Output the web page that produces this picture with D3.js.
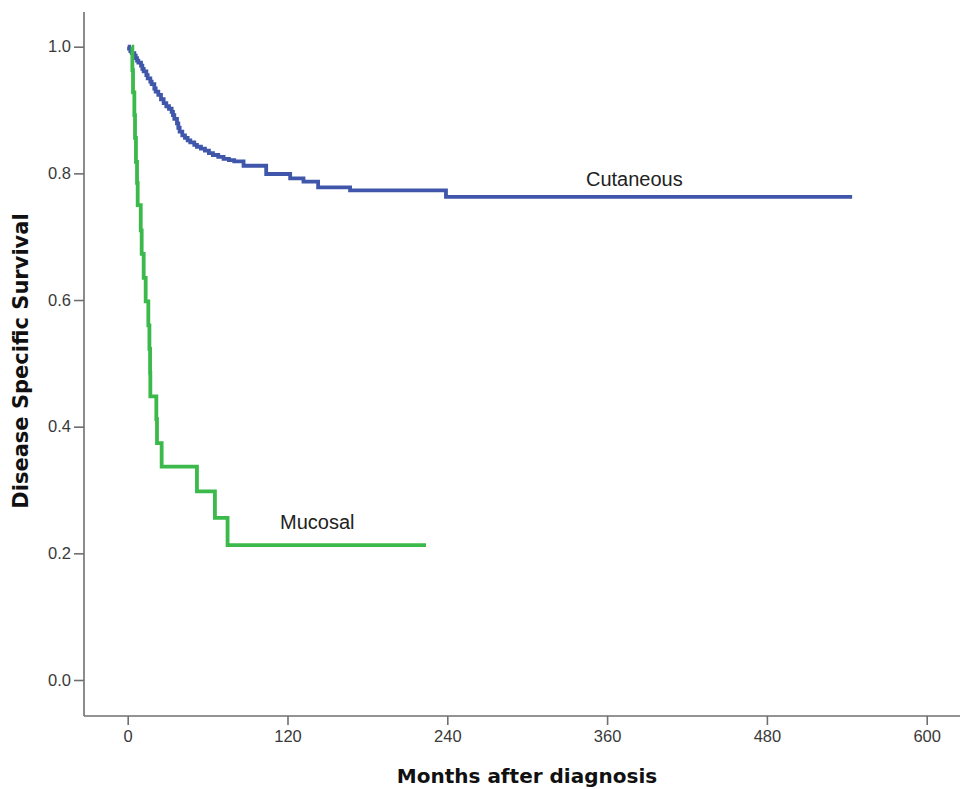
<!DOCTYPE html>
<html>
<head>
<meta charset="utf-8">
<script src="https://cdn.jsdelivr.net/npm/d3@7"></script>
<style>
  body { margin: 0; background: #fff; }
  svg { display: block; }
</style>
</head>
<body>
<svg id="chart" width="960" height="789"></svg>
<script>
// data (months, survival)
var cutMonths = [0,1,2,3,5,6,7,8,10,11,12,14,15,17,18,20,21,23,25,27,29,31,33,34,35,37,38,39,41,43,45,47,50,52,55,58,61,64,68,72,76,80,87,104,122,132,143,167,239,544];
var cutSurv   = [1.0,0.997,0.993,0.990,0.986,0.982,0.978,0.975,0.970,0.965,0.961,0.955,0.950,0.945,0.941,0.934,0.929,0.924,0.917,0.911,0.906,0.902,0.897,0.892,0.886,0.879,0.872,0.866,0.860,0.856,0.852,0.849,0.845,0.842,0.839,0.836,0.832,0.829,0.826,0.823,0.821,0.819,0.812,0.799,0.792,0.787,0.778,0.773,0.763,0.763];

var mucMonths = [3,3.5,4,5,5.5,6.2,7,7.5,9.8,10.5,12,13.5,15.5,16.3,16.8,17,21.5,22,25.5,52,65.5,75,224];
var mucSurv   = [1.0,0.963,0.928,0.892,0.856,0.818,0.785,0.75,0.71,0.673,0.635,0.598,0.56,0.523,0.485,0.448,0.412,0.374,0.337,0.298,0.256,0.213,0.213];

var xTicks = [0,120,240,360,480,600];
var yTicks = [0,0.2,0.4,0.6,0.8,1.0];

var svg = d3.select("#chart");

var x = d3.scaleLinear().domain([0,600]).range([127.7,926.7]);
var y = d3.scaleLinear().domain([0,1]).range([680,46.7]);

var axisCol = "#6f6f6f";
var tickFont = "'Liberation Sans', Arial, sans-serif";
var titleFont = "'DejaVu Sans', Verdana, sans-serif";

// axis lines
svg.append("line").attr("x1",84).attr("x2",84).attr("y1",12).attr("y2",716)
  .style("stroke",axisCol).style("stroke-width","1.6px");
svg.append("line").attr("x1",84).attr("x2",960).attr("y1",716).attr("y2",716)
  .style("stroke",axisCol).style("stroke-width","1.6px");

// y axis
var yAxis = d3.axisLeft(y).tickValues(yTicks).tickFormat(d3.format(".1f")).tickSize(10).tickPadding(3);
var gy = svg.append("g").attr("transform","translate(84,0)").call(yAxis);
// x axis
var xAxis = d3.axisBottom(x).tickValues(xTicks).tickSize(9).tickPadding(5);
var gx = svg.append("g").attr("transform","translate(0,716)").call(xAxis);

[gy,gx].forEach(function(g){
  g.attr("font-size",null).attr("font-family",null);
  g.select(".domain").remove();
  g.selectAll(".tick line").style("stroke",axisCol).style("stroke-width","1.6px");
  g.selectAll(".tick text").style("font-family",tickFont).style("font-size","16.5px").style("fill","#3a3a3a");
});

// axis titles
svg.append("text").attr("x",527).attr("y",783).attr("text-anchor","middle")
  .style("font-family",titleFont).style("font-weight","bold")
  .style("font-size","20px").style("fill","#111").text("Months after diagnosis");
svg.append("text").attr("transform","translate(28,361) rotate(-90)").attr("text-anchor","middle")
  .style("font-family",titleFont).style("font-weight","bold")
  .style("font-size","21px").style("fill","#111").text("Disease Specific Survival");

// survival curves
var line = d3.line().curve(d3.curveStepAfter)
  .x(function(d){ return x(d[0]); })
  .y(function(d){ return y(d[1]); });

var cut = d3.zip(cutMonths, cutSurv);
var muc = d3.zip(mucMonths, mucSurv);

svg.append("path").datum(cut).attr("d",line)
  .style("fill","none").style("stroke","#3f56aa").style("stroke-width","3.8px");
svg.append("path").datum(muc).attr("d",line)
  .style("fill","none").style("stroke","#3bba4b").style("stroke-width","3.8px");

// curve labels
svg.append("text").attr("x",586).attr("y",186)
  .style("font-family",tickFont).style("font-size","20px").style("fill","#222").text("Cutaneous");
svg.append("text").attr("x",280).attr("y",529)
  .style("font-family",tickFont).style("font-size","20px").style("fill","#222").text("Mucosal");
</script>
</body>
</html>
